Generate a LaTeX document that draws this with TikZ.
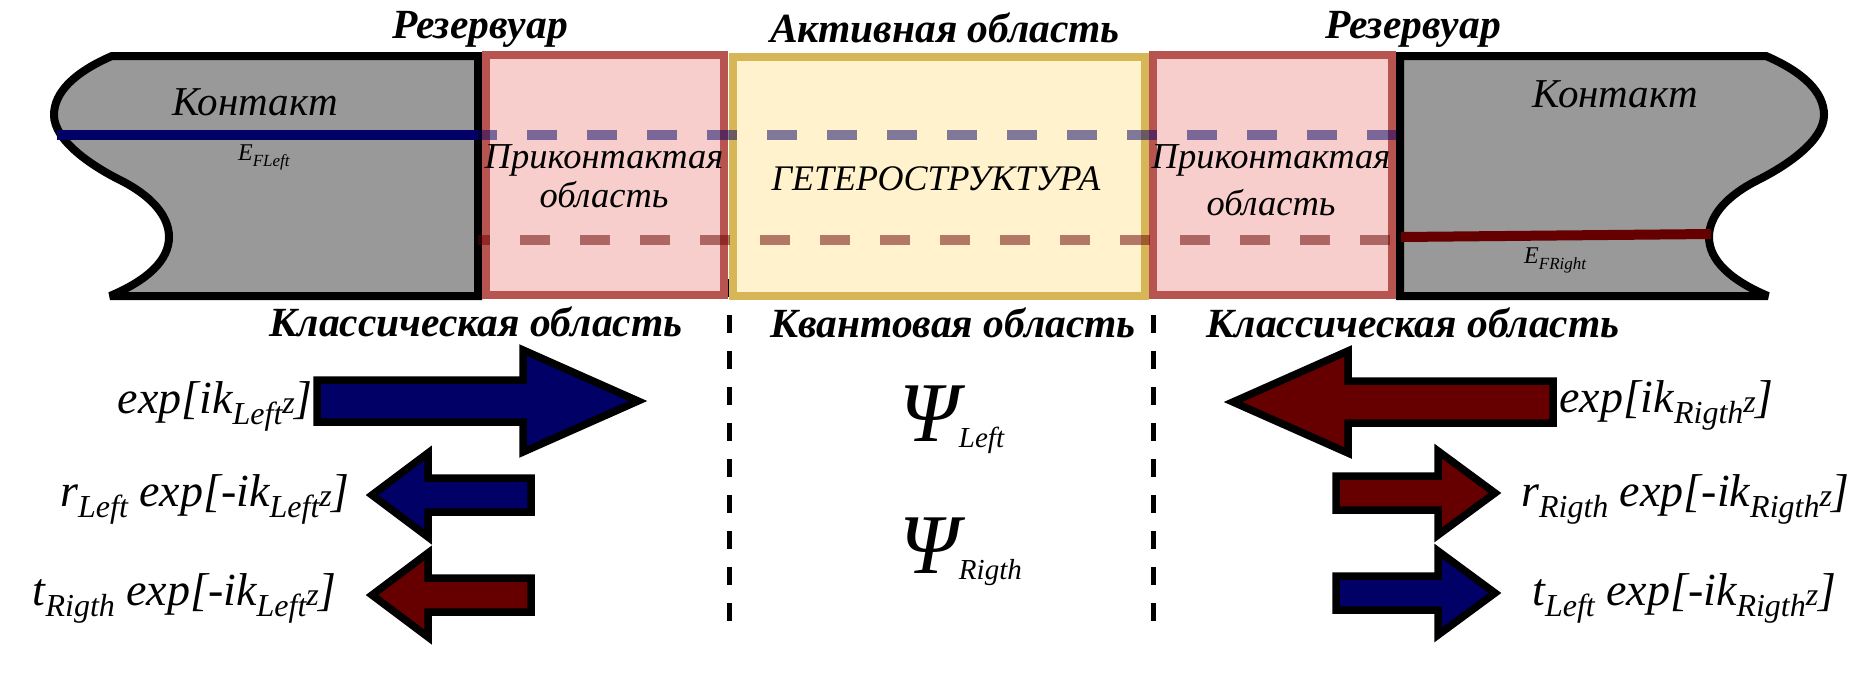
\documentclass[tikz,border=0pt]{standalone}
\usepackage{fontspec}
\setmainfont{Liberation Serif}
\usepackage{xcolor}
\usepackage{tikz}
\definecolor{Navy}{HTML}{000066}
\definecolor{Maroon}{HTML}{660000}
\definecolor{Metal}{HTML}{999999}
\definecolor{ResFill}{HTML}{F8CECC}
\definecolor{ResEdge}{HTML}{B85450}
\definecolor{ActFill}{HTML}{FFF2CC}
\definecolor{ActEdge}{HTML}{D6B656}
\newcommand{\fsz}[1]{\fontsize{#1}{#1}\selectfont}
\newcommand{\subl}[1]{\raisebox{-11pt}{\fsz{32}#1}}
\newcommand{\zsm}{{\fsz{32}z}}
\tikzset{
  metal/.style={draw=black, line width=8pt, fill=Metal, line join=miter, miter limit=4},
  resv/.style={draw=ResEdge, fill=ResFill, line width=8pt, inner sep=0pt},
  act/.style={draw=ActEdge, fill=ActFill, line width=8pt, inner sep=0pt},
  head/.style={font=\fsz{41.5}\bfseries\itshape, inner sep=0pt},
  txt/.style={font=\fsz{41}\itshape, inner sep=0pt},
  small/.style={font=\fsz{36.5}\itshape, inner sep=0pt},
  wave/.style={font=\fsz{46}\itshape, inner sep=0pt},
  psi/.style={font=\fsz{85}\itshape, inner sep=0pt},
  efl/.style={line width=10pt, draw=Navy},
  efr/.style={line width=10pt, draw=Maroon},
  halfdash/.style={opacity=.5, dash pattern=on 30pt off 30pt},
  border/.style={draw=black, line width=5pt, dash pattern=on 18pt off 18pt},
  blk/.style={draw=black, line width=7.5pt, line join=miter}
}
\newcommand{\blockarr}[7]{%
  \filldraw[blk, fill=#1] (#3,#2-#6) -- (#4,#2-#6) -- (#4,#2-#7) -- (#5,#2)
    -- (#4,#2+#7) -- (#4,#2+#6) -- (#3,#2+#6) -- cycle;}
\newcommand{\contact}{%
  \draw[metal] (478,56) -- (112,56) .. controls (75,72) and (54,92) .. (54,115)
    .. controls (54,140) and (90,165) .. (120,180) .. controls (150,195) and (169,215) .. (169,237)
    .. controls (169,260) and (148,280) .. (110,296) -- (478,296) -- cycle;}

\begin{document}
\begin{tikzpicture}[x=1pt, y=-1pt]
  \useasboundingbox (0,0) rectangle (1868,686);
  \draw[border] (729,279) -- (729,621);
  \draw[border] (1153,279) -- (1153,621);

  \contact
  \begin{scope}[shift={(1878,0)}, xscale=-1]
    \contact
  \end{scope}
  \node[resv, minimum width=238pt, minimum height=240pt] (resL) at (605,175) {};
  \node[act, minimum width=412pt, minimum height=239pt] (act) at (939,176.5) {};
  \node[resv, minimum width=239pt, minimum height=240pt] (resR) at (1272.5,175) {};

  \draw[efl] (57,135) -- (478,135);
  \draw[efl, halfdash, dash phase=11pt] (478,135) -- (1400,135);
  \draw[efr, halfdash, dash phase=18pt] (478,240) -- (1400,240);
  \draw[efr] (1401,237) -- (1711,234);

  \node[head, anchor=base] (resTL) at (480,38) {Резервуар};
  \node[head, anchor=base] (actT) at (945,42) {Активная область};
  \node[head, anchor=base] (resTR) at (1413,38) {Резервуар};
  \node[txt, anchor=base] (conL) at (255,115) {Контакт};
  \node[txt, anchor=base] (conR) at (1615,107) {Контакт};
  \node[font=\fsz{24}\itshape, inner sep=0pt, anchor=base west] (efL) at (238,160) {E\raisebox{-6pt}{\fsz{17}FLeft}};
  \node[font=\fsz{24}\itshape, inner sep=0pt, anchor=base west] (efR) at (1524,263) {E\raisebox{-6pt}{\fsz{17}FRight}};
  \node[small, anchor=base] (prL) at (604,168) {Приконтактая};
  \node[small, anchor=base] (obL) at (604,207) {область};
  \node[small, anchor=base] (prR) at (1271,168) {Приконтактая};
  \node[small, anchor=base] (obR) at (1271,215) {область};
  \node[font=\fsz{36}\itshape, inner sep=0pt, anchor=base] (het) at (936,190) {ГЕТЕРОСТРУКТУРА};

  \node[head, anchor=base] (clsL) at (476,336) {Классическая область};
  \node[head, anchor=base] (qnt) at (953,337) {Квантовая область};
  \node[head, anchor=base] (clsR) at (1413,337) {Классическая область};

  \blockarr{Navy}{401}{317}{523}{638}{21}{51}
  \blockarr{Navy}{495}{531}{428}{372}{17}{42}
  \blockarr{Maroon}{595}{531}{428}{372}{17}{42}
  \blockarr{Maroon}{402}{1553}{1348}{1233}{21}{51}
  \blockarr{Maroon}{493}{1336}{1438}{1495}{17}{42}
  \blockarr{Navy}{593}{1336}{1438}{1495}{17}{42}

  \node[wave, anchor=base east] (inL) at (313,413) {exp[ik\subl{Left}\zsm]};
  \node[wave, anchor=base east] (rfL) at (350,506) {r\subl{Left} exp[-ik\subl{Left}\zsm]};
  \node[wave, anchor=base east] (trL) at (337,605) {t\subl{Rigth} exp[-ik\subl{Left}\zsm]};
  \node[wave, anchor=base west] (inR) at (1559,412) {exp[ik\subl{Rigth}\zsm]};
  \node[wave, anchor=base west] (rfR) at (1521,506) {r\subl{Rigth} exp[-ik\subl{Rigth}\zsm]};
  \node[wave, anchor=base west] (trR) at (1532,605) {t\subl{Left} exp[-ik\subl{Rigth}\zsm]};

  \node[psi, anchor=base west] (psiL) at (899,441) {Ψ\raisebox{-6pt}{\fsz{29}Left}};
  \node[psi, anchor=base west] (psiR) at (899,573) {Ψ\raisebox{-6pt}{\fsz{29}Rigth}};
\end{tikzpicture}
\end{document}
